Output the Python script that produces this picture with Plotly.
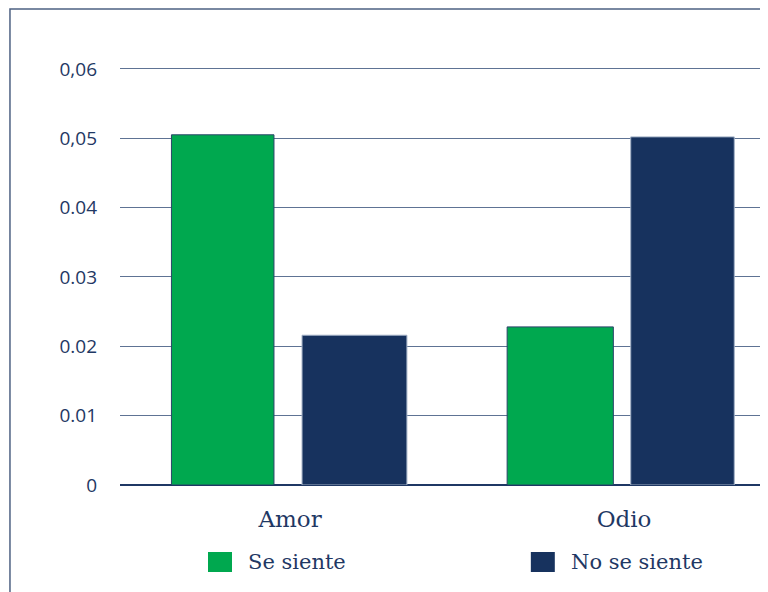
import plotly.graph_objects as go

categories = ["Amor", "Odio"]
series_names = ["Se siente", "No se siente"]
se_siente = [0.0505, 0.0228]
no_se_siente = [0.0216, 0.0502]
tick_vals = [0, 0.01, 0.02, 0.03, 0.04, 0.05, 0.06]
tick_text = ["0", "0.01", "0.02", "0.03", "0.04", "0,05", "0,06"]

GREEN = "#00A84F"
NAVY = "#17325E"
TEXT = "#1F3864"
GRID = "#5E7394"

fig = go.Figure()
fig.add_trace(go.Bar(
    x=categories, y=se_siente, name=series_names[0],
    marker=dict(color=GREEN, line=dict(color="#2A4468", width=1)),
    width=[0.307, 0.318], offset=[-0.355, -0.35], showlegend=False,
))
fig.add_trace(go.Bar(
    x=categories, y=no_se_siente, name=series_names[1],
    marker=dict(color=NAVY, line=dict(color="#A3B1C6", width=1)),
    width=[0.314, 0.31], offset=[0.036, 0.02], showlegend=False,
))

H_PLOT = 423.0

fig.update_layout(
    width=760, height=584,
    margin=dict(l=112, r=0, t=54, b=107),
    paper_bgcolor="white", plot_bgcolor="white",
    barmode="group",
    xaxis=dict(
        type="category", range=[-0.509, 1.431],
        showgrid=False, showline=False, zeroline=False, ticks="",
        tickfont=dict(family="DejaVu Serif", size=23, color=TEXT),
        ticklabelstandoff=18,
    ),
    yaxis=dict(
        range=[0, 0.061], tickvals=tick_vals, ticktext=tick_text,
        showgrid=True, gridcolor=GRID, gridwidth=1.3,
        zeroline=True, zerolinecolor=TEXT, zerolinewidth=1.6,
        showline=False, ticks="",
        tickfont=dict(family="Open Sans", size=19, color=TEXT),
        ticklabelstandoff=22,
    ),
)

# frame around the chart (left and top edges visible)
fig.add_shape(type="rect", xref="paper", yref="paper",
              x0=-0.1698, x1=1.2, y0=-0.6, y1=476 / H_PLOT,
              line=dict(color="#4E6283", width=1.5), fillcolor="rgba(0,0,0,0)",
              layer="below")

# manual legend
legend_items = [(series_names[0], GREEN, 0.1358), (series_names[1], NAVY, 0.634)]
for name, col, x0 in legend_items:
    fig.add_shape(type="rect", xref="paper", yref="paper",
                  x0=x0, x1=x0 + 0.037, y0=-87 / H_PLOT, y1=-67 / H_PLOT,
                  line=dict(width=0), fillcolor=col)
    fig.add_annotation(xref="paper", yref="paper", x=x0 + 0.059, y=-77 / H_PLOT,
                       text=name, showarrow=False, xanchor="left", yanchor="middle",
                       font=dict(family="DejaVu Serif", size=21, color=TEXT))

fig.write_html("out.html")
